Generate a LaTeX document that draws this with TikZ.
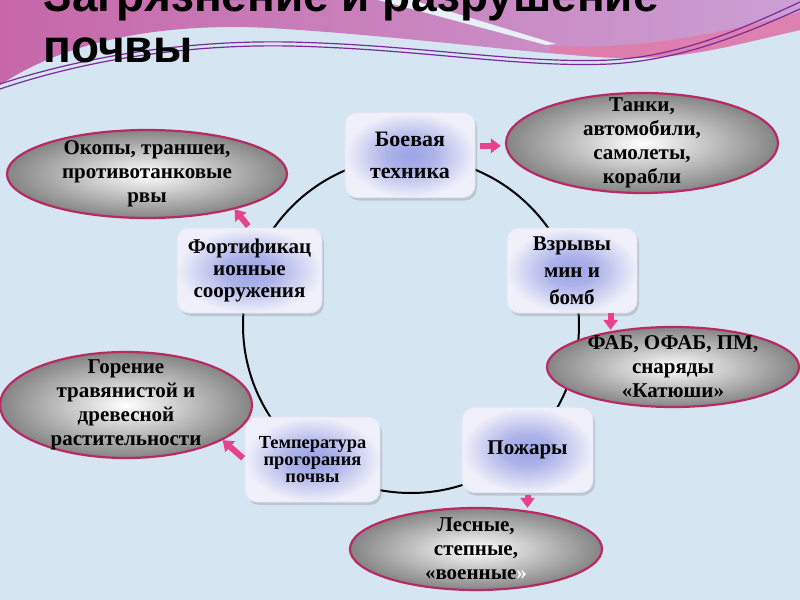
\documentclass[tikz,border=0pt]{standalone}
\usepackage{fontspec}
\setmainfont{Liberation Serif}
\newfontfamily\headfont{Liberation Sans}
\usepackage{xcolor}
\usetikzlibrary{arrows.meta,positioning,shapes.geometric,shadows}
\definecolor{paper}{HTML}{D6E5F2}
\definecolor{wave}{HTML}{C767A8}
\definecolor{lilac}{HTML}{CBA0D4}
\definecolor{ribbon}{HTML}{E27AA6}
\definecolor{thread}{HTML}{7B2A9C}
\definecolor{hubblue}{HTML}{9CA3E5}
\definecolor{hubpale}{HTML}{EFF0FA}
\definecolor{rim}{HTML}{B82A62}
\definecolor{pinkarrow}{HTML}{E8428E}
\pgfdeclareradialshading{hubglow}{\pgfpoint{0bp}{0bp}}{color(0bp)=(hubblue);
  color(9bp)=(hubblue!80!hubpale); color(20bp)=(hubblue!25!hubpale); color(25bp)=(hubpale); color(50bp)=(hubpale)}

\begin{document}
\begin{tikzpicture}[x=0.5pt, y=-0.5pt,
    box/.style={rounded corners=6pt, shading=hubglow, draw=hubpale!85!hubblue,
      line width=0.4pt, drop shadow={shadow xshift=1pt, shadow yshift=-1.5pt, opacity=0.3},
      align=center, inner sep=2pt, minimum width=65pt, minimum height=42.5pt},
    oval/.style={ellipse, inner color=white, outer color=black!48, draw=rim, line width=1.1pt, inner sep=0pt},
    ovaltext/.style={align=center, font=\fontsize{10.5}{12}\selectfont\bfseries},
    flow/.style={-{Triangle[length=5pt, width=7pt]}, line width=3pt, pinkarrow}]
  \useasboundingbox (0,0) rectangle (800,600);
  \clip (0,0) rectangle (800,600);
  % background and top wave
  \fill[paper] (0,0) rectangle (800,600);
  \shade[left color=wave, right color=lilac] (0,0) -- (800,0) -- (800,30)
    .. controls (730,46) and (690,58) .. (630,58) .. controls (560,58) and (430,38) .. (270,28)
    .. controls (150,22) and (60,45) .. (0,85) -- cycle;
  \fill[ribbon, opacity=0.8] (550,46) .. controls (640,50) and (720,34) .. (800,12) -- (800,30)
    .. controls (730,46) and (690,58) .. (630,58) .. controls (600,58) and (575,55) .. (550,52) -- cycle;
  \fill[paper!60!white] (378,0) -- (412,0) -- (556,44) -- (546,45) -- cycle;
  \draw[thread, line width=0.6pt] (0,84) .. controls (80,58) and (180,40) .. (290,42)
    .. controls (420,45) and (520,64) .. (610,60) .. controls (680,56) and (740,30) .. (800,2);
  \draw[thread, line width=0.6pt] (0,89) .. controls (80,62) and (180,44) .. (290,46)
    .. controls (420,49) and (520,68) .. (610,64) .. controls (680,60) and (740,36) .. (800,9);
  % title
  \node[anchor=base west, inner sep=0pt, font=\fontsize{23}{26}\selectfont\headfont\bfseries] (head) at (43,11) {Загрязнение и разрушение};
  \node[anchor=base west, inner sep=0pt, font=\fontsize{23}{26}\selectfont\headfont\bfseries] (head2) at (43,62) {почвы};
  % ring
  \coordinate (ring) at (411,325);
  \draw[line width=1pt] (ring) circle[radius=84pt];
  % hubs
  \node[box, font=\fontsize{11}{16}\selectfont\bfseries] (tech) at (410,155) {Боевая\\техника};
  \node[box, font=\fontsize{10.5}{13.5}\selectfont\bfseries] (blast) at (572,270.5) {Взрывы\\мин и\\бомб};
  \node[box, minimum width=72.5pt, font=\fontsize{10.5}{10.8}\selectfont\bfseries] (fort) at (249.5,270.5) {Фортификац\\ионные\\сооружения};
  \node[box, minimum width=67.5pt, font=\fontsize{9.2}{8.3}\selectfont\bfseries] (temp) at (312.5,459.5) {Температура\\прогорания\\почвы};
  \node[box, minimum width=65.5pt, font=\fontsize{10.5}{13}\selectfont\bfseries] (fire) at (527.5,450) {Пожары};
  % examples
  \node[oval, minimum width=136pt, minimum height=50pt,
    label={[ovaltext]center:{Танки,\\автомобили,\\самолеты,\\корабли}}] (tanks) at (642,143) {};
  \node[oval, minimum width=140pt, minimum height=44pt,
    label={[ovaltext]center:{Окопы, траншеи,\\противотанковые\\рвы}}] (trench) at (147,174) {};
  \node[oval, minimum width=126pt, minimum height=40pt,
    label={[ovaltext]center:{ФАБ, ОФАБ, ПМ,\\снаряды\\«Катюши»}}] (fab) at (673,367) {};
  \node[oval, minimum width=126pt, minimum height=53pt,
    label={[ovaltext]center:{Горение\\травянистой и\\древесной\\растительности}}] (burn) at (126,405) {};
  \node[oval, minimum width=126pt, minimum height=41pt,
    label={[ovaltext]center:{Лесные,\\степные,\\«военные\textcolor{white}{»}}}] (forest) at (476,549) {};
  % pink arrows
  \draw[flow, shorten <=2.5pt, shorten >=2pt] (tech.8) -- (tech.8 -| tanks.west);
  \draw[flow, shorten >=-2pt] (blast.-48) -- (blast.-48 |- fab.north);
  \draw[flow, shorten <=1pt, shorten >=-0.5pt] (fire.south) -- (fire.south |- forest.north);
  \draw[flow, shorten <=1pt] (temp.west) -- (burn.-20);
  \draw[flow, shorten <=1pt] (fort.north) -- (trench.-22);
\end{tikzpicture}
\end{document}
